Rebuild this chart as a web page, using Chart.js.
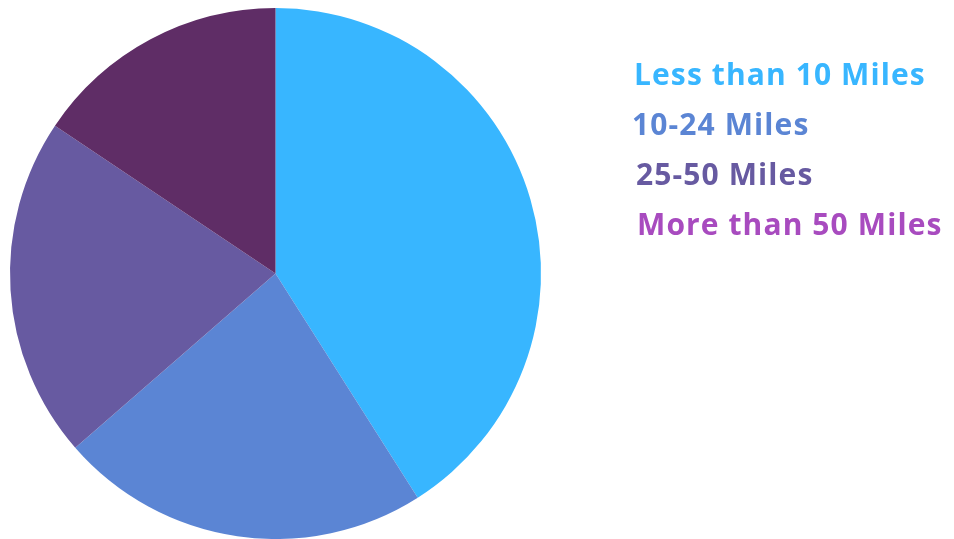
<!DOCTYPE html>
<html>
<head>
<meta charset="utf-8">
<script src="https://cdn.jsdelivr.net/npm/chart.js@4"></script>
<style>
  html, body { margin: 0; padding: 0; background: #fff; }
  #wrap { width: 954px; height: 539px; position: relative; }
</style>
</head>
<body>
<div id="wrap"><canvas id="pieChart"></canvas></div>
<script>
// データ
const categories = ['Less than 10 Miles', '10-24 Miles', '25-50 Miles', 'More than 50 Miles'];
const shares = [41, 22.6, 20.8, 15.6];

// 色
const sliceColors = ['#38B6FF', '#5B85D4', '#675AA1', '#5F2D66'];
const legendColors = ['#38B6FF', '#5B85D4', '#675AA1', '#A84BBF'];

// 凡例の描画（テキストのみ）
const textLegend = {
  id: 'textLegend',
  afterDraw(chart) {
    const ctx = chart.ctx;
    const xs = [634, 632, 636, 637];
    ctx.save();
    ctx.font = 'bold 30px "Open Sans"';
    ctx.letterSpacing = '1.1px';
    ctx.textBaseline = 'alphabetic';
    ctx.textAlign = 'left';
    categories.forEach((label, i) => {
      ctx.fillStyle = legendColors[i];
      ctx.fillText(label, xs[i], 85 + i * 50);
    });
    ctx.restore();
  }
};

const ctx = document.getElementById('pieChart').getContext('2d');
new Chart(ctx, {
  type: 'pie',
  data: {
    labels: categories,
    datasets: [{
      data: shares,
      backgroundColor: sliceColors,
      borderWidth: 0
    }]
  },
  options: {
    responsive: true,
    maintainAspectRatio: false,
    animation: false,
    layout: { padding: { top: 8, bottom: 0, left: 9, right: 412 } },
    plugins: {
      legend: { display: false },
      tooltip: { enabled: false }
    }
  },
  plugins: [textLegend]
});
</script>
</body>
</html>
